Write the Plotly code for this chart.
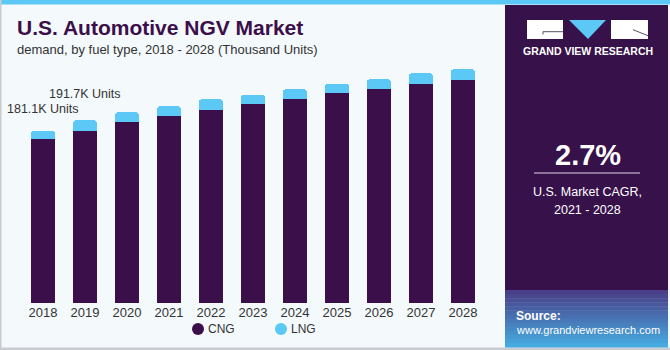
import plotly.graph_objects as go
import numpy as np

years = ["2018", "2019", "2020", "2021", "2022", "2023", "2024", "2025", "2026", "2027", "2028"]
cng = [172.1, 180.9, 190.4, 196.7, 202.7, 208.6, 213.9, 220.2, 224.4, 229.6, 233.8]
lng = [9.0, 10.8, 9.8, 9.8, 11.2, 9.8, 10.5, 9.8, 10.5, 11.6, 11.6]
label_years = ["2018", "2019"]
label_texts = ["181.1K Units", "191.7K Units"]

DARK = "#3a0f4a"
LIGHT = "#5bc8f5"
BG = "#f4f9fc"
PANEL = "#37114a"

W_FIG, H_FIG = 670, 350
L, T, PW, PH = 22, 60, 462, 243

def px(x):
    return (x - L) / PW

def py(y):
    return (T + PH - y) / PH

fig = go.Figure()
fig.add_trace(go.Bar(x=years, y=cng, name="CNG", marker=dict(color=DARK, line=dict(width=0)), showlegend=False))
fig.add_trace(go.Bar(x=years, y=lng, name="LNG", marker=dict(color=LIGHT, line=dict(width=0)), showlegend=False))

totals = {y: c + l for y, c, l in zip(years, cng, lng)}

annotations = []
for yr, txt, sh in zip(label_years, label_texts, [22, 26]):
    annotations.append(dict(x=years.index(yr), y=totals[yr], xref="x", yref="y", text=txt, showarrow=False,
                            yanchor="middle", xanchor="center", yshift=sh,
                            font=dict(family="Liberation Sans", size=12.5, color="#333333")))

def text(x, y, t, size, color="#ffffff", bold=False, xanchor="left", family="Liberation Sans"):
    annotations.append(dict(x=px(x), y=py(y), xref="paper", yref="paper", text=(f"<b>{t}</b>" if bold else t),
                            showarrow=False, xanchor=xanchor, yanchor="middle",
                            font=dict(family=family, size=size, color=color)))

text(15, 28, "U.S. Automotive NGV Market", 21, color=DARK, bold=True)
text(15, 50, "demand, by fuel type, 2018 - 2028 (Thousand Units)", 13, color="#333333")
text(588, 51, "GRAND VIEW RESEARCH", 10.5, bold=True, xanchor="center")
text(588, 155, "2.7%", 29, bold=True, xanchor="center")
text(587, 192, "U.S. Market CAGR,", 12.5, xanchor="center")
text(587, 210, "2021 - 2028", 12.5, xanchor="center")
text(514, 316, "Source:", 12, bold=True)
text(514, 330, "www.grandviewresearch.com", 11)
text(206, 329, "CNG", 12, color="#333333")
text(289, 329, "LNG", 12, color="#333333")

shapes = []
def rect(x0, y0, x1, y1, color, layer="below"):
    shapes.append(dict(type="rect", xref="paper", yref="paper", x0=px(x0), x1=px(x1), y0=py(y1), y1=py(y0),
                       fillcolor=color, line=dict(width=0), layer=layer))

# top stripe
rect(0, 0, 670, 4.5, LIGHT)
# borders
rect(0, 0, 1.5, 350, "#c8ccd0")
rect(0, 347.5, 670, 350, "#c8ccd0")
# right panel
rect(505, 5, 668, 290, PANEL)
# source box gradient
top_c = np.array([0x4a, 0x3f, 0x88])
bot_c = np.array([0x47, 0xaa, 0xe0])
n = 14
for i in range(n):
    f = i / (n - 1)
    c = (top_c * (1 - f) + bot_c * f).astype(int)
    y0 = 290 + i * (347 - 290) / n
    y1 = 290 + (i + 1) * (347 - 290) / n + 0.5
    rect(505, y0, 668, y1, "rgb(%d,%d,%d)" % tuple(c))
# logo
rect(527, 20, 563, 39, "#ffffff")
rect(611, 20, 648, 39, "#ffffff")
shapes.append(dict(type="path", xref="paper", yref="paper",
                   path="M %f %f L %f %f L %f %f Z" % (px(569), py(20), px(606), py(20), px(588), py(39)),
                   fillcolor=LIGHT, line=dict(width=0)))
shapes.append(dict(type="line", xref="paper", yref="paper", x0=px(543), x1=px(563), y0=py(31.7), y1=py(31.7),
                   line=dict(color="#555566", width=1)))
shapes.append(dict(type="line", xref="paper", yref="paper", x0=px(543), x1=px(543), y0=py(31.7), y1=py(34.5),
                   line=dict(color="#555566", width=1)))
shapes.append(dict(type="line", xref="paper", yref="paper", x0=px(633), x1=px(648), y0=py(29.7), y1=py(35.7),
                   line=dict(color="#555566", width=1)))
# CAGR separator
shapes.append(dict(type="line", xref="paper", yref="paper", x0=px(534), x1=px(640), y0=py(173), y1=py(173),
                   line=dict(color="#a892b0", width=1.5)))
# legend circles
for cx, col in [(198, DARK), (281, LIGHT)]:
    shapes.append(dict(type="circle", xref="paper", yref="paper", xsizemode="pixel", ysizemode="pixel",
                       xanchor=px(cx), yanchor=py(329), x0=-6, x1=6, y0=-6, y1=6,
                       fillcolor=col, line=dict(width=0)))

fig.update_layout(
    width=W_FIG, height=H_FIG,
    margin=dict(l=L, r=W_FIG - L - PW, t=T, b=H_FIG - T - PH, pad=0),
    paper_bgcolor=BG, plot_bgcolor=BG,
    barmode="stack", bargap=0.43, barcornerradius=3,
    showlegend=False,
    xaxis=dict(type="category", range=[-0.5, len(years) - 0.5], showgrid=False, showline=False, zeroline=False,
               ticks="", tickfont=dict(family="Liberation Sans", size=13, color="#333333"), fixedrange=True),
    yaxis=dict(range=[0, 255.15], visible=False, fixedrange=True),
    annotations=annotations,
    shapes=shapes,
)

fig.write_html("out.html")
